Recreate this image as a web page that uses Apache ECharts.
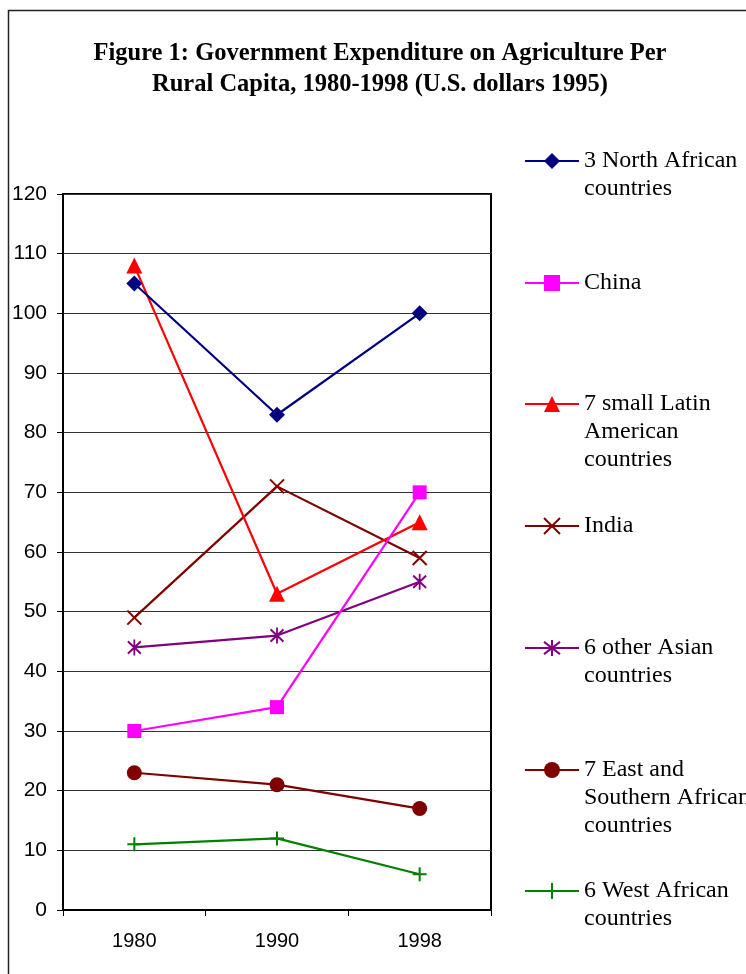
<!DOCTYPE html>
<html>
<head>
<meta charset="utf-8">
<script src="https://cdn.jsdelivr.net/npm/echarts@6/dist/echarts.min.js"></script>
<style>
  html, body { margin: 0; padding: 0; background: #fff; }
  #chart { width: 746px; height: 974px; }
</style>
</head>
<body>
<div id="chart"></div>
<script>
// Years on the category axis
const years = ['1980', '1990', '1998'];

// Expenditure per rural capita (U.S. dollars 1995)
const northAfrica = [105, 83, 100];
const china = [30, 34, 70];
const latinAmerica = [108, 53, 65];
const india = [49, 71, 59];
const otherAsia = [44, 46, 55];
const eastSouthAfrica = [23, 21, 17];
const westAfrica = [11, 12, 6];

// Legend labels (line breaks as printed)
const seriesNames = [
  '3 North African\ncountries',
  'China',
  '7 small Latin\nAmerican\ncountries',
  'India',
  '6 other Asian\ncountries',
  '7 East and\nSouthern African\ncountries',
  '6 West African\ncountries'
];

const yTicks = { min: 0, max: 120, step: 10 };

const SYM_X = 'path://M0,0L10,10M10,0L0,10';
const SYM_STAR = 'path://M0,0L10,10M10,0L0,10M5,-1.5L5,11.5';
const SYM_PLUS = 'path://M5,0L5,10M0,5L10,5';

const styles = [
  { color: '#000080', symbol: 'diamond', size: 16 },
  { color: '#FF00FF', symbol: 'rect', size: 14 },
  { color: '#FF0000', symbol: 'triangle', size: 16 },
  { color: '#800000', symbol: SYM_X, size: 14, stroke: true },
  { color: '#800080', symbol: SYM_STAR, size: [13, 16], stroke: true },
  { color: '#800000', symbol: 'circle', size: 15 },
  { color: '#008000', symbol: SYM_PLUS, size: 14, stroke: true }
];
const values = [northAfrica, china, latinAmerica, india, otherAsia, eastSouthAfrica, westAfrica];

const series = values.map((data, i) => {
  const s = styles[i];
  return {
    name: seriesNames[i],
    type: 'line',
    data: data,
    symbol: s.symbol,
    symbolSize: s.size,
    showAllSymbol: true,
    z: 10 - i,
    lineStyle: { color: s.color, width: 2.2 },
    itemStyle: s.stroke
      ? { color: s.color, borderColor: s.color, borderWidth: 2 }
      : { color: s.color, borderWidth: 0 },
    emphasis: { disabled: true },
    animation: false
  };
});

// One legend block per series, stacked down the right side.
// Leading blank lines keep the first text line level with the icon.
const legendCenters = [161, 283, 404, 526, 648, 770, 891];
const LINE_H = 28;
const legends = seriesNames.map((name, i) => {
  const n = name.split('\n').length;
  return {
    data: [name],
    left: 524,
    top: legendCenters[i] - (2 * n - 1) * LINE_H / 2,
    padding: 0,
    itemWidth: 54,
    itemHeight: 20,
    selectedMode: false,
    formatter: (label) => '\n'.repeat(n - 1) + label,
    textStyle: {
      fontFamily: 'Liberation Serif',
      fontSize: 24,
      color: '#000',
      lineHeight: LINE_H
    }
  };
});

const chart = echarts.init(document.getElementById('chart'), null, { renderer: 'canvas' });
chart.setOption({
  backgroundColor: '#fff',
  animation: false,
  title: {
    text: 'Figure 1: Government Expenditure on Agriculture Per\nRural Capita, 1980-1998 (U.S. dollars 1995)',
    left: 380,
    top: 38,
    padding: 0,
    textAlign: 'center',
    textStyle: {
      fontFamily: 'Liberation Serif',
      fontWeight: 'bold',
      fontSize: 24.5,
      lineHeight: 31,
      color: '#000'
    }
  },
  graphic: [{
    type: 'rect',
    shape: { x: 8.5, y: 10.5, width: 800, height: 1000 },
    style: { fill: 'none', stroke: '#222', lineWidth: 1.5 },
    silent: true,
    z: -10
  }],
  legend: legends,
  grid: {
    left: 63, top: 194, right: 255, bottom: 64,
    show: true,
    borderColor: '#000',
    borderWidth: 2,
    backgroundColor: 'transparent'
  },
  xAxis: {
    type: 'category',
    data: years,
    boundaryGap: true,
    axisLine: { lineStyle: { color: '#000', width: 2 } },
    axisTick: { show: true, length: 6, lineStyle: { color: '#000', width: 1 } },
    axisLabel: { fontFamily: 'Liberation Sans', fontSize: 20, color: '#000', margin: 21 },
    splitLine: { show: false }
  },
  yAxis: {
    type: 'value',
    min: yTicks.min,
    max: yTicks.max,
    interval: yTicks.step,
    axisLine: { show: true, lineStyle: { color: '#000', width: 2 } },
    axisTick: { show: true, length: 6, lineStyle: { color: '#000', width: 1 } },
    axisLabel: { fontFamily: 'Liberation Sans', fontSize: 21, color: '#000', margin: 16 },
    splitLine: { show: true, lineStyle: { color: '#333', width: 1 } }
  },
  series: series
});
</script>
</body>
</html>
